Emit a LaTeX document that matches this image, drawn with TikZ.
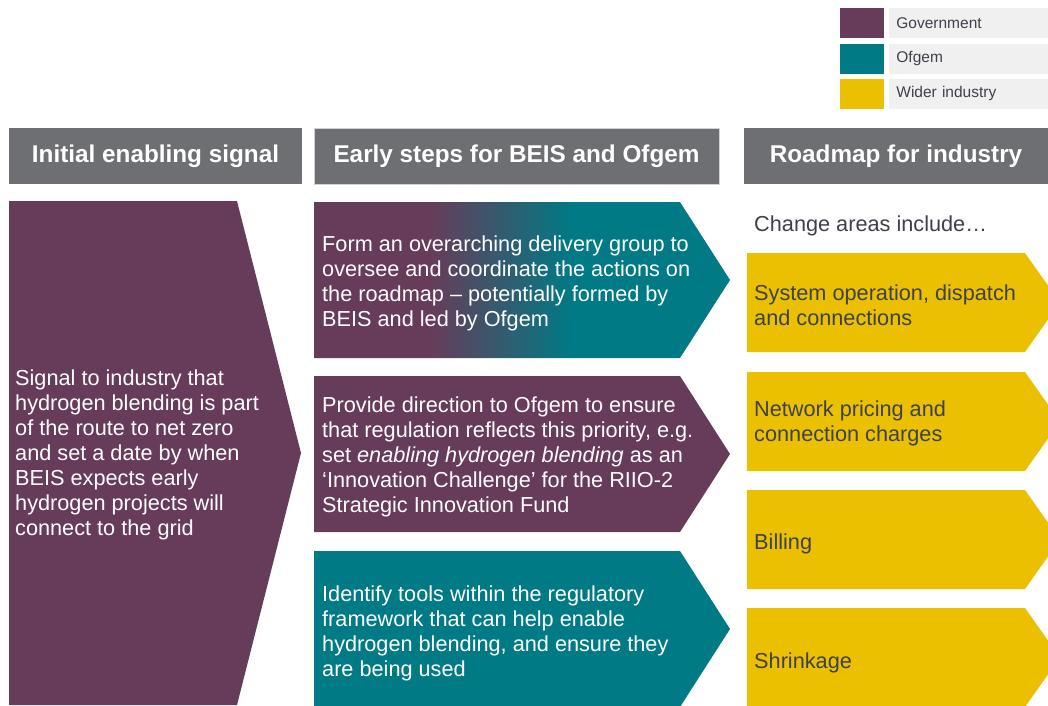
\documentclass[tikz,border=0pt]{standalone}
\usepackage{fontspec}
\setmainfont{Liberation Sans}
\usetikzlibrary{positioning}

\definecolor{plum}{HTML}{673C5A}
\definecolor{ofgemteal}{HTML}{007A85}
\definecolor{industry}{HTML}{EAC000}
\definecolor{headgray}{HTML}{6E6F73}
\definecolor{legendbg}{HTML}{F0F0F0}
\definecolor{darktext}{HTML}{3E414B}

% plum on the left, teal on the right
\pgfdeclarehorizontalshading{plumtoteal}{100bp}{color(0bp)=(plum); color(39bp)=(plum); color(56bp)=(ofgemteal); color(100bp)=(ofgemteal)}

\tikzset{
  header/.style={fill=headgray, text=white, minimum height=56pt, inner sep=0pt,
    font=\fontsize{24.3}{28}\selectfont\bfseries},
  swatch/.style={minimum width=44pt, minimum height=30pt, inner sep=0pt},
  legendlabel/.style={fill=legendbg, text=darktext, minimum height=30pt, text width=150pt,
    inner xsep=7pt, inner ysep=0pt, align=left, font=\fontsize{15.5}{18}\selectfont},
  boxtext/.style={anchor=west, align=left, inner sep=0pt, text=white},
  areatext/.style={anchor=west, align=left, inner sep=0pt, text=darktext}
}

\begin{document}
\begin{tikzpicture}[x=1pt, y=-1pt, font=\fontsize{21.7}{25}\selectfont]
  \useasboundingbox (0,0) rectangle (1048,705);
  \clip (0,0) rectangle (1048,705);

  % Legenda
  \node[swatch, fill=plum] (gov) at (862,23) {};
  \node[swatch, fill=ofgemteal] (ofg) at (862,58.5) {};
  \node[swatch, fill=industry] (ind) at (862,93.5) {};
  \node[legendlabel, right=5pt of gov] (govlabel) {\raisebox{-1pt}{Government}};
  \node[legendlabel, right=5pt of ofg] (ofglabel) {\raisebox{-1pt}{Ofgem}};
  \node[legendlabel, right=5pt of ind] (indlabel) {\raisebox{-1pt}{Wider industry}};

  % Cabeçalhos das colunas
  \node[header, minimum width=293pt] (head1) at (155.5,156) {Initial enabling signal};
  \node[header, minimum width=405pt, draw=gray!35] (head2) at (516.5,156) {Early steps for BEIS and Ofgem};
  \node[header, minimum width=304pt] (head3) at (896,156) {Roadmap for industry};

  % Primeira coluna
  \fill[plum] (9,201) -- (237,201) -- (301,453) -- (237,705) -- (9,705) -- cycle;
  \node[boxtext] (signal) at (15,455) {Signal to industry that\\hydrogen blending is part\\of the route to net zero\\and set a date by when\\BEIS expects early\\hydrogen projects will\\connect to the grid};

  % Segunda coluna
  \shade[shading=plumtoteal] (314,202) -- (680,202) -- (730,280) -- (680,358) -- (314,358) -- cycle;
  \fill[plum] (314,376) -- (680,376) -- (730,454) -- (680,532) -- (314,532) -- cycle;
  \fill[ofgemteal] (314,551) -- (680,551) -- (730,629) -- (680,707) -- (314,707) -- cycle;
  \node[boxtext] (group) at (322,283) {Form an overarching delivery group to\\oversee and coordinate the actions on\\the roadmap -- potentially formed by\\BEIS and led by Ofgem};
  \node[boxtext] (direction) at (322,457) {Provide direction to Ofgem to ensure\\that regulation reflects this priority, e.g.\\set \textit{enabling hydrogen blending} as an\\‘Innovation Challenge’ for the RIIO-2\\Strategic Innovation Fund};
  \node[boxtext] (tools) at (322,633) {Identify tools within the regulatory\\framework that can help enable\\hydrogen blending, and ensure they\\are being used};

  % Terceira coluna
  \node[areatext] (areas) at (754,226) {Change areas include…};
  \foreach \y in {253, 372, 490, 608}
    \fill[industry] (747,\y) -- (1025,\y) -- (1060,\y+49.5) -- (1025,\y+99) -- (747,\y+99) -- cycle;
  \node[areatext] (sysop) at (754,305) {System operation, dispatch\\and connections};
  \node[areatext] (pricing) at (754,423) {Network pricing and\\connection charges};
  \node[areatext] (billing) at (754,544) {Billing};
  \node[areatext] (shrink) at (754,663) {Shrinkage};
\end{tikzpicture}
\end{document}
